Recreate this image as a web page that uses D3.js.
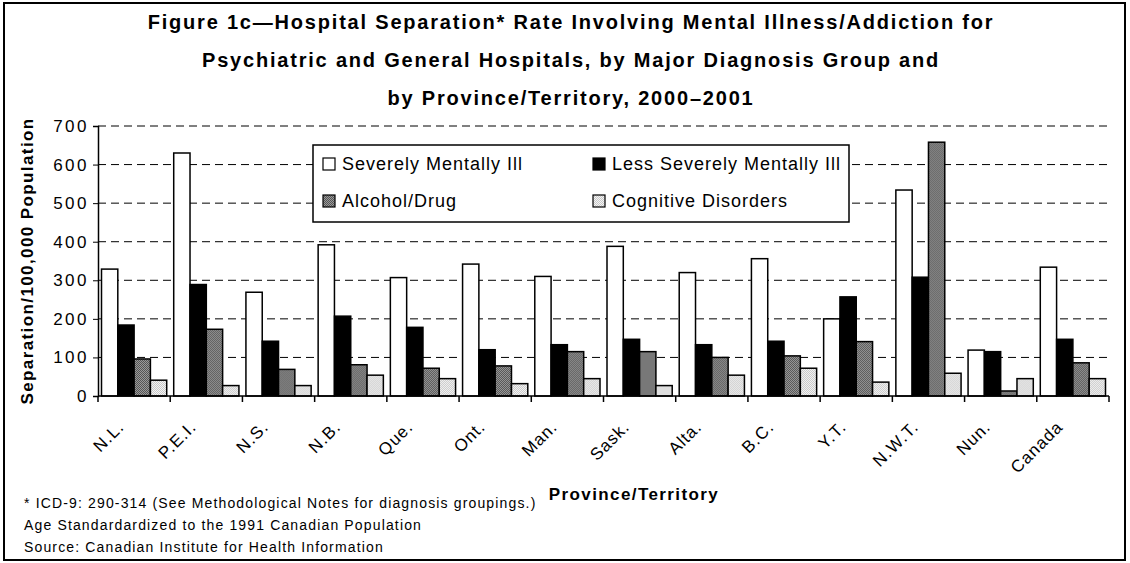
<!DOCTYPE html>
<html>
<head>
<meta charset="utf-8">
<script src="https://cdn.jsdelivr.net/npm/d3@7"></script>
<style>
  body { margin: 0; background: #fff; }
  svg { display: block; font-family: "Liberation Sans", Arial, sans-serif; }
</style>
</head>
<body>
<svg id="chart" width="1130" height="563"></svg>
<script>
(function() {
"use strict";

var categories = ["N.L.", "P.E.I.", "N.S.", "N.B.", "Que.", "Ont.", "Man.",
  "Sask.", "Alta.", "B.C.", "Y.T.", "N.W.T.", "Nun.", "Canada"];

var seriesNames = ["Severely Mentally Ill", "Less Severely Mentally Ill",
  "Alcohol/Drug", "Cognitive Disorders"];

var severe    = [329, 630, 269, 392, 307, 342, 310, 388, 320, 356, 200, 534, 119, 334];
var less      = [184, 289, 142, 207, 178, 120, 133, 147, 133, 142, 257, 308, 115, 147];
var alcohol   = [96, 173, 69, 81, 72, 78, 115, 115, 100, 104, 141, 658, 13, 86];
var cognitive = [41, 27, 27, 54, 45, 32, 45, 27, 54, 72, 36, 59, 45, 45];

var yTicks = [0, 100, 200, 300, 400, 500, 600, 700];

var titleLines = [
  "Figure 1c\u2014Hospital Separation* Rate Involving Mental Illness/Addiction for",
  "Psychiatric and General Hospitals, by Major Diagnosis Group and",
  "by Province/Territory, 2000\u20132001"
];

var footnotes = [
  "* ICD-9: 290-314 (See Methodological Notes for diagnosis groupings.)",
  "Age Standardardized to the 1991 Canadian Population",
  "Source: Canadian Institute for Health Information"
];

var seriesValues = [severe, less, alcohol, cognitive];
var fills = ["#ffffff", "#000000", "url(#hatchDark)", "url(#hatchLight)"];

var svg = d3.select("#chart");

// patterns for the two textured series
var defs = svg.append("defs");
var pd = defs.append("pattern").attr("id", "hatchDark")
  .attr("width", 2).attr("height", 2).attr("patternUnits", "userSpaceOnUse");
pd.append("rect").attr("width", 2).attr("height", 2).attr("fill", "#9a9a9a");
pd.append("rect").attr("width", 1).attr("height", 1).attr("fill", "#555");
pd.append("rect").attr("x", 1).attr("y", 1).attr("width", 1).attr("height", 1).attr("fill", "#555");

var pl = defs.append("pattern").attr("id", "hatchLight")
  .attr("width", 2).attr("height", 2).attr("patternUnits", "userSpaceOnUse");
pl.append("rect").attr("width", 2).attr("height", 2).attr("fill", "#f4f4f4");
pl.append("rect").attr("width", 1).attr("height", 1).attr("fill", "#c8c8c8");
pl.append("rect").attr("x", 1).attr("y", 1).attr("width", 1).attr("height", 1).attr("fill", "#c8c8c8");

// outer frame
svg.append("rect")
  .attr("x", 4).attr("y", 3).attr("width", 1121).attr("height", 557)
  .attr("fill", "none").attr("stroke", "#000").attr("stroke-width", 2);

// title
svg.append("g").selectAll("text")
  .data(titleLines)
  .enter().append("text")
  .attr("x", 571)
  .attr("y", function(d, i) { return 29 + i * 38; })
  .attr("text-anchor", "middle")
  .style("font-size", "20px")
  .style("font-weight", "bold")
  .style("letter-spacing", "1.8px")
  .text(function(d) { return d; });

var left = 98, right = 1109, top = 126, bottom = 396;

var x = d3.scaleBand().domain(categories).range([left, right]);
var x1 = d3.scaleBand().domain(d3.range(4)).range([3.5, x.bandwidth() - 3.5]);
var y = d3.scaleLinear().domain([0, 700]).range([bottom, top]);

// dashed gridlines
svg.append("g").selectAll("line")
  .data(yTicks.slice(1))
  .enter().append("line")
  .attr("x1", left).attr("x2", right)
  .attr("y1", function(d) { return y(d); })
  .attr("y2", function(d) { return y(d); })
  .attr("stroke", "#000")
  .attr("stroke-width", 1)
  .attr("stroke-dasharray", "8,5");

// bars
var groups = svg.append("g").selectAll("g")
  .data(categories)
  .enter().append("g")
  .attr("transform", function(d) { return "translate(" + x(d) + ",0)"; });

groups.selectAll("rect")
  .data(function(d, i) {
    return seriesValues.map(function(vals, s) { return {s: s, v: vals[i]}; });
  })
  .enter().append("rect")
  .attr("x", function(d) { return x1(d.s); })
  .attr("width", x1.bandwidth())
  .attr("y", function(d) { return y(d.v); })
  .attr("height", function(d) { return bottom - y(d.v); })
  .attr("fill", function(d) { return fills[d.s]; })
  .attr("stroke", "#000")
  .attr("stroke-width", 1.5);

// y axis
var yAxis = svg.append("g")
  .attr("transform", "translate(" + left + ",0)")
  .call(d3.axisLeft(y).tickValues(yTicks).tickSize(5).tickPadding(4));
yAxis.select(".domain").attr("stroke-width", 1.5);
yAxis.selectAll("text")
  .style("font-size", "17px")
  .style("letter-spacing", "2.5px")
  .style("font-family", "'Liberation Sans', Arial, sans-serif");

// x axis with ticks at category boundaries
var xAxis = svg.append("g")
  .attr("transform", "translate(0," + bottom + ")");
xAxis.append("line")
  .attr("x1", left).attr("x2", right)
  .attr("stroke", "#000").attr("stroke-width", 1.5);
xAxis.selectAll("line.tick")
  .data(categories.concat(["end"]))
  .enter().append("line")
  .attr("class", "tick")
  .attr("x1", function(d, i) { return left + i * x.step(); })
  .attr("x2", function(d, i) { return left + i * x.step(); })
  .attr("y1", 0).attr("y2", 6)
  .attr("stroke", "#000").attr("stroke-width", 1.5);

xAxis.selectAll("text")
  .data(categories)
  .enter().append("text")
  .attr("transform", function(d) {
    return "translate(" + (x(d) + x.bandwidth() / 2 - 9) + ",32) rotate(-45)";
  })
  .attr("text-anchor", "end")
  .style("font-size", "17px")
  .style("letter-spacing", "1px")
  .text(function(d) { return d; });

// axis titles
svg.append("text")
  .attr("transform", "translate(27," + ((top + bottom) / 2) + ") rotate(-90)")
  .attr("text-anchor", "middle")
  .attr("dy", "0.35em")
  .style("font-size", "17px")
  .style("font-weight", "bold")
  .style("letter-spacing", "1.4px")
  .text("Separation/100,000 Population");

svg.append("text")
  .attr("x", 634).attr("y", 500)
  .attr("text-anchor", "middle")
  .style("font-size", "17px")
  .style("font-weight", "bold")
  .style("letter-spacing", "1.4px")
  .text("Province/Territory");

// legend
var legend = svg.append("g").attr("transform", "translate(313,145)");
legend.append("rect")
  .attr("width", 536).attr("height", 77)
  .attr("fill", "#fff").attr("stroke", "#000").attr("stroke-width", 1.5);

var legendPos = [[10, 19], [280, 19], [10, 56], [280, 56]];
var items = legend.selectAll("g.item")
  .data(seriesNames)
  .enter().append("g")
  .attr("class", "item")
  .attr("transform", function(d, i) {
    return "translate(" + legendPos[i][0] + "," + legendPos[i][1] + ")";
  });
items.append("rect")
  .attr("x", 0).attr("y", -6).attr("width", 12).attr("height", 12)
  .attr("fill", function(d, i) { return fills[i]; })
  .attr("stroke", "#000").attr("stroke-width", 1.2);
items.append("text")
  .attr("x", 19).attr("dy", "0.36em")
  .style("font-size", "18px")
  .style("letter-spacing", "1px")
  .text(function(d) { return d; });

// footnotes
svg.append("g").selectAll("text")
  .data(footnotes)
  .enter().append("text")
  .attr("x", 24)
  .attr("y", function(d, i) { return 508 + i * 22; })
  .style("font-size", "14px")
  .style("letter-spacing", "1.15px")
  .text(function(d) { return d; });

})();
</script>
</body>
</html>
